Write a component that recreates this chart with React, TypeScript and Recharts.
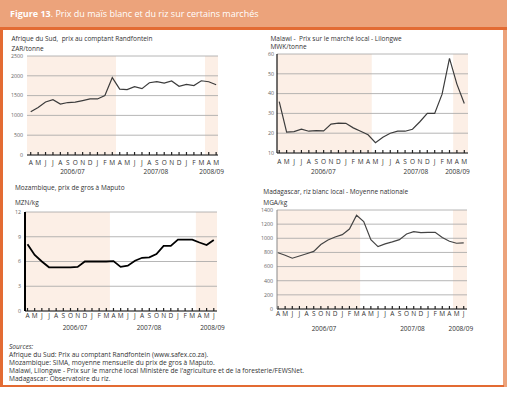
import React from 'react';
import { CartesianGrid, Line, LineChart, ReferenceArea, XAxis, YAxis } from 'recharts';

// month initials, April 2006 onwards
const monthsAprToMay = ['A', 'M', 'J', 'J', 'A', 'S', 'O', 'N', 'D', 'J', 'F', 'M', 'A', 'M', 'J', 'J', 'A', 'S', 'O', 'N', 'D', 'J', 'F', 'M', 'A', 'M'];
const monthsAprToJun = [...monthsAprToMay, 'J'];
const yearLabels = ['2006/07', '2007/08', '2008/09'];

const zarPerTonne = [1090, 1200, 1340, 1395, 1285, 1325, 1335, 1375, 1415, 1415, 1500, 1955, 1665, 1650, 1725, 1675, 1825, 1855, 1815, 1870, 1735, 1785, 1755, 1875, 1850, 1775];
const mwkPerTonne = [36, 20.5, 20.8, 22, 21, 21.3, 21.2, 24.6, 25.1, 25, 22.7, 21, 19.2, 15.2, 18, 20, 21, 21, 22, 25.8, 30, 30, 39.7, 57.8, 44.8, 35];
const mznPerKg = [8.1, 6.8, 6.0, 5.3, 5.3, 5.3, 5.3, 5.35, 6.0, 6.0, 6.0, 6.0, 6.05, 5.35, 5.5, 6.1, 6.45, 6.5, 6.9, 7.9, 7.9, 8.65, 8.65, 8.65, 8.3, 8.0, 8.6];
const mgaPerKg = [795, 760, 718, 750, 782, 814, 912, 977, 1019, 1052, 1131, 1325, 1237, 981, 883, 921, 949, 981, 1061, 1094, 1080, 1084, 1084, 1010, 958, 930, 935];

const zarTicks = [0, 500, 1000, 1500, 2000, 2500];
const mwkTicks = [10, 20, 30, 40, 50, 60];
const mznTicks = [0, 3, 6, 9, 12];
const mgaTicks = [0, 200, 400, 600, 800, 1000, 1200, 1400];

const sources = [
  'Afrique du Sud: Prix au comptant  Randfontein (www.safex.co.za).',
  'Mozambique: SIMA, moyenne mensuelle du prix de gros à Maputo.',
  "Malawi, Lilongwe - Prix sur le marché local Ministère de l'agriculture et de la foresterie/FEWSNet.",
  'Madagascar: Observatoire du riz.',
];

const FONT = '"Open Sans", "DejaVu Sans", sans-serif';
const SHADE = '#fcefe6';
const ORANGE = '#eca37b';
const DARK_ORANGE = '#e36b33';

function Txt({ x, y, size, children, center, style }: any) {
  return (
    <div
      style={{
        position: 'absolute',
        left: x,
        top: y,
        fontSize: size,
        lineHeight: 1,
        whiteSpace: 'nowrap',
        color: '#333',
        transform: center ? 'translate(-50%, -50%)' : 'translateY(-50%)',
        ...style,
      }}
    >
      {children}
    </div>
  );
}

function Panel(p: any) {
  const data = p.values.map((v: number, i: number) => ({ i, v }));
  const idx = p.months.map((_: string, i: number) => i);
  return (
    <div style={{ position: 'absolute', left: p.left, top: p.top }}>
      <LineChart
        width={p.width}
        height={p.height}
        data={data}
        margin={{ top: p.marginTop, right: p.marginRight, bottom: 0, left: 0 }}
      >
        {p.shades.map(([a, b]: [number, number], k: number) => (
          <ReferenceArea key={k} x1={a} x2={b} fill={SHADE} fillOpacity={1} stroke="none" ifOverflow="hidden" zIndex={-200} />
        ))}
        <CartesianGrid vertical={false} stroke="#a3a3a3" strokeWidth={0.8} />
        <XAxis
          dataKey="i"
          type="number"
          domain={p.xDomain}
          ticks={idx}
          interval={0}
          allowDataOverflow
          tickFormatter={(i) => p.months[i]}
          height={23}
          tickSize={-3}
          tickMargin={p.xTickMargin}
          axisLine={{ stroke: '#222', strokeWidth: 1 }}
          tickLine={{ stroke: '#222', strokeWidth: 1.2 }}
          tick={{ fontSize: 6.5, fill: '#333', fontFamily: FONT }}
        />
        <YAxis
          type="number"
          domain={[p.yTicks[0], p.yTicks[p.yTicks.length - 1]]}
          ticks={p.yTicks}
          interval={0}
          width={p.yAxisWidth}
          tickSize={0}
          tickMargin={p.yTickMargin ?? 4}
          axisLine={p.yAxisLine}
          tickLine={false}
          tick={{ fontSize: 5.3, fill: '#666', fontFamily: FONT }}
        />
        <Line
          dataKey="v"
          stroke={p.lineColor}
          strokeWidth={p.lineWidth}
          dot={false}
          isAnimationActive={false}
        />
      </LineChart>
    </div>
  );
}

export default function App() {
  return (
    <div
      style={{
        position: 'absolute',
        left: 0,
        top: 0,
        width: 507,
        height: 401,
        background: '#fff',
        fontFamily: FONT,
        overflow: 'hidden',
      }}
    >
      {/* frame */}
      <div style={{ position: 'absolute', left: 0, top: 0, width: 507, height: 27, background: ORANGE }} />
      <div style={{ position: 'absolute', left: 0, top: 27, width: 507, height: 3, background: DARK_ORANGE }} />
      <div style={{ position: 'absolute', left: 0, top: 27, width: 3, height: 360, background: DARK_ORANGE }} />
      <div style={{ position: 'absolute', left: 503, top: 30, width: 4, height: 357, background: ORANGE }} />
      <div style={{ position: 'absolute', left: 0, top: 385, width: 504, height: 2, background: DARK_ORANGE }} />
      <Txt x={10} y={13} size={9} style={{ color: '#fff' }}>
        <b>Figure 13</b>. Prix du maïs blanc et du riz sur certains marchés
      </Txt>

      {/* Afrique du Sud */}
      <Txt x={11.5} y={39} size={6.5}>Afrique du Sud,&nbsp; prix au comptant Randfontein</Txt>
      <Txt x={11.5} y={48.5} size={6.5}>ZAR/tonne</Txt>
      <Panel
        left={0} top={50} width={226} height={128} marginTop={6} marginRight={8} yAxisWidth={27}
        values={zarPerTonne} months={monthsAprToMay} yTicks={zarTicks} xDomain={[-0.5, 25.25]}
        shades={[[-0.5, 11.5], [23.5, 25.25]]} lineColor="#3c3c3c" lineWidth={1.2} yAxisLine={false}
        xTickMargin={8}
      />
      <Txt x={72.5} y={171.7} size={6.5} center>{yearLabels[0]}</Txt>
      <Txt x={155.8} y={171.7} size={6.5} center>{yearLabels[1]}</Txt>
      <Txt x={211.7} y={171.7} size={6.5} center>{yearLabels[2]}</Txt>

      {/* Malawi */}
      <Txt x={270.5} y={38.5} size={6.5}>Malawi -&nbsp; Prix sur le marché local - Lilongwe</Txt>
      <Txt x={270.5} y={47.3} size={6.5}>MWK/tonne</Txt>
      <Panel
        left={249} top={48} width={226} height={128} marginTop={6} marginRight={7} yAxisWidth={28}
        values={mwkPerTonne} months={monthsAprToMay} yTicks={mwkTicks} xDomain={[-0.3, 25.5]}
        shades={[[-0.3, 12.5], [23.5, 25.5]]} lineColor="#3c3c3c" lineWidth={1.2}
        yAxisLine={{ stroke: '#111', strokeWidth: 1.2 }} xTickMargin={9} yTickMargin={3}
      />
      <Txt x={323.3} y={172.3} size={6.5} center>{yearLabels[0]}</Txt>
      <Txt x={415.8} y={172.3} size={6.5} center>{yearLabels[1]}</Txt>
      <Txt x={457.5} y={172.3} size={6.5} center>{yearLabels[2]}</Txt>

      {/* Mozambique */}
      <Txt x={15} y={188.3} size={6.5}>Mozambique, prix de gros à Maputo</Txt>
      <Txt x={15} y={203} size={6.5}>MZN/kg</Txt>
      <Panel
        left={0} top={205} width={224} height={129} marginTop={7} marginRight={7} yAxisWidth={25}
        values={mznPerKg} months={monthsAprToJun} yTicks={mznTicks} xDomain={[-0.35, 26.45]}
        shades={[[-0.35, 11.5], [23.5, 26.45]]} lineColor="#000" lineWidth={1.8}
        yAxisLine={{ stroke: '#000', strokeWidth: 2 }} xTickMargin={5}
      />
      <Txt x={75} y={328.3} size={6.5} center>{yearLabels[0]}</Txt>
      <Txt x={149} y={328.3} size={6.5} center>{yearLabels[1]}</Txt>
      <Txt x={212.5} y={328.3} size={6.5} center>{yearLabels[2]}</Txt>

      {/* Madagascar */}
      <Txt x={263.3} y={191.7} size={6.5}>Madagascar, riz blanc local - Moyenne nationale</Txt>
      <Txt x={263.3} y={203} size={6.5}>MGA/kg</Txt>
      <Panel
        left={249} top={203} width={226} height={129} marginTop={7} marginRight={8} yAxisWidth={28}
        values={mgaPerKg} months={monthsAprToJun} yTicks={mgaTicks} xDomain={[-0.14, 26.46]}
        shades={[[-0.14, 11.5], [24.5, 26.46]]} lineColor="#444" lineWidth={1.2}
        yAxisLine={{ stroke: '#888', strokeWidth: 1 }} xTickMargin={5}
      />
      <Txt x={324} y={329} size={6.5} center>{yearLabels[0]}</Txt>
      <Txt x={412.5} y={329} size={6.5} center>{yearLabels[1]}</Txt>
      <Txt x={460.8} y={329} size={6.5} center>{yearLabels[2]}</Txt>

      {/* sources */}
      <Txt x={9} y={346.7} size={6.6} style={{ fontStyle: 'italic' }}>Sources:</Txt>
      {sources.map((s, k) => (
        <Txt key={k} x={9} y={354.5 + k * 8.25} size={6.6}>{s}</Txt>
      ))}
    </div>
  );
}
